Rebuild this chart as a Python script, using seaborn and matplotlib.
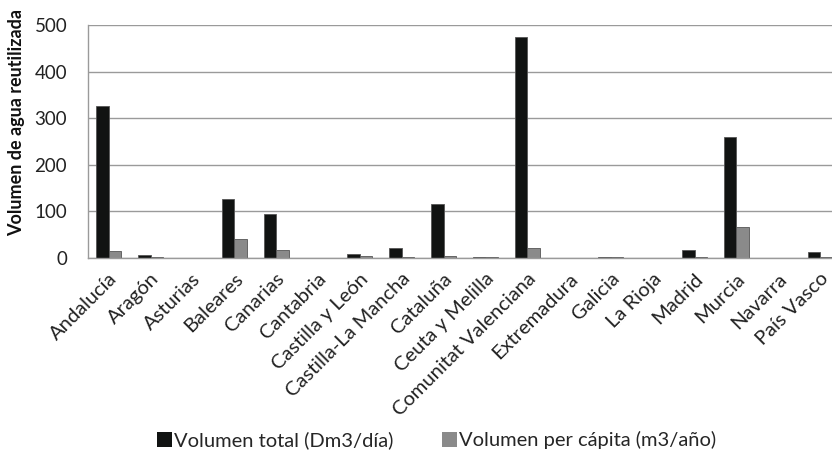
import matplotlib
matplotlib.use("Agg")
import matplotlib.pyplot as plt
import matplotlib.transforms as mtransforms
import seaborn as sns
import pandas as pd
from matplotlib.patches import Patch

regiones = ["Andalucía", "Aragón", "Asturias", "Baleares", "Canarias", "Cantabria",
            "Castilla y León", "Castilla-La Mancha", "Cataluña", "Ceuta y Melilla",
            "Comunitat Valenciana", "Extremadura", "Galicia", "La Rioja", "Madrid",
            "Murcia", "Navarra", "País Vasco"]
volumen_total = [326, 5.5, 0, 127, 95, 0, 9, 20.5, 116, 3, 475, 0, 3, 0, 16.5, 259, 0, 13.5]
volumen_per_capita = [14, 3, 0, 41, 16.5, 0, 3.5, 2, 5, 3, 20.5, 0, 3, 0, 2, 66, 0, 1.5]
series = ["Volumen total (Dm3/día)", "Volumen per cápita (m3/año)"]
colores = ["#111312", "#8a8a8a"]

df = pd.DataFrame({
    "region": regiones * 2,
    "valor": volumen_total + volumen_per_capita,
    "serie": [series[0]] * len(regiones) + [series[1]] * len(regiones),
})

sns.set_theme(style="white")
plt.rcParams["font.family"] = ["Lato", "DejaVu Sans"]

fig = plt.figure(figsize=(8.32, 4.51), dpi=100)
# the plot area runs slightly past the right edge of the canvas
ax = fig.add_axes([0.1058, 0.428, 0.905, 0.5166])

sns.barplot(data=df, x="region", y="valor", hue="serie", order=regiones,
            hue_order=series, palette=colores, width=0.6, gap=0,
            edgecolor="#555555", linewidth=0.6, ax=ax, legend=False)

ax.set_ylim(0, 500)
ax.set_xlim(-0.5, len(regiones) - 0.5)
ax.set_yticks([0, 100, 200, 300, 400, 500])
ax.yaxis.grid(True, color="#9a9a9a", linewidth=1.0)
ax.set_axisbelow(True)
for s in ["top", "right"]:
    ax.spines[s].set_visible(False)
for s in ["left", "bottom"]:
    ax.spines[s].set_color("#9a9a9a")
    ax.spines[s].set_linewidth(1.0)

ax.tick_params(axis="y", labelsize=13.5, colors="#222222", length=0, pad=15)
ax.tick_params(axis="x", length=0, pad=13)
ax.set_xticks(range(len(regiones)))
ax.set_xticklabels(regiones, fontsize=14.5, color="#222222")
shift = mtransforms.ScaledTranslation(4 / 72, 0, fig.dpi_scale_trans)
for lab in ax.get_xticklabels():
    lab.set_rotation(45)
    lab.set_ha("right")
    lab.set_va("center")
    lab.set_rotation_mode("anchor")
    lab.set_transform(lab.get_transform() + shift)

ax.set_xlabel("")
ax.set_ylabel("Volumen de agua reutilizada", fontsize=13, fontweight="bold",
              color="#111111")
ax.yaxis.set_label_coords(-0.083, 0.58)

handles = [Patch(facecolor=c, edgecolor="none") for c in colores]
fig.legend(handles, series, loc="center", bbox_to_anchor=(0.525, 0.024), ncol=2,
           frameon=False, fontsize=14.5, handlelength=0.75, handleheight=0.75,
           handletextpad=0.1, columnspacing=2.4)

fig.savefig("out.png", dpi=100)
